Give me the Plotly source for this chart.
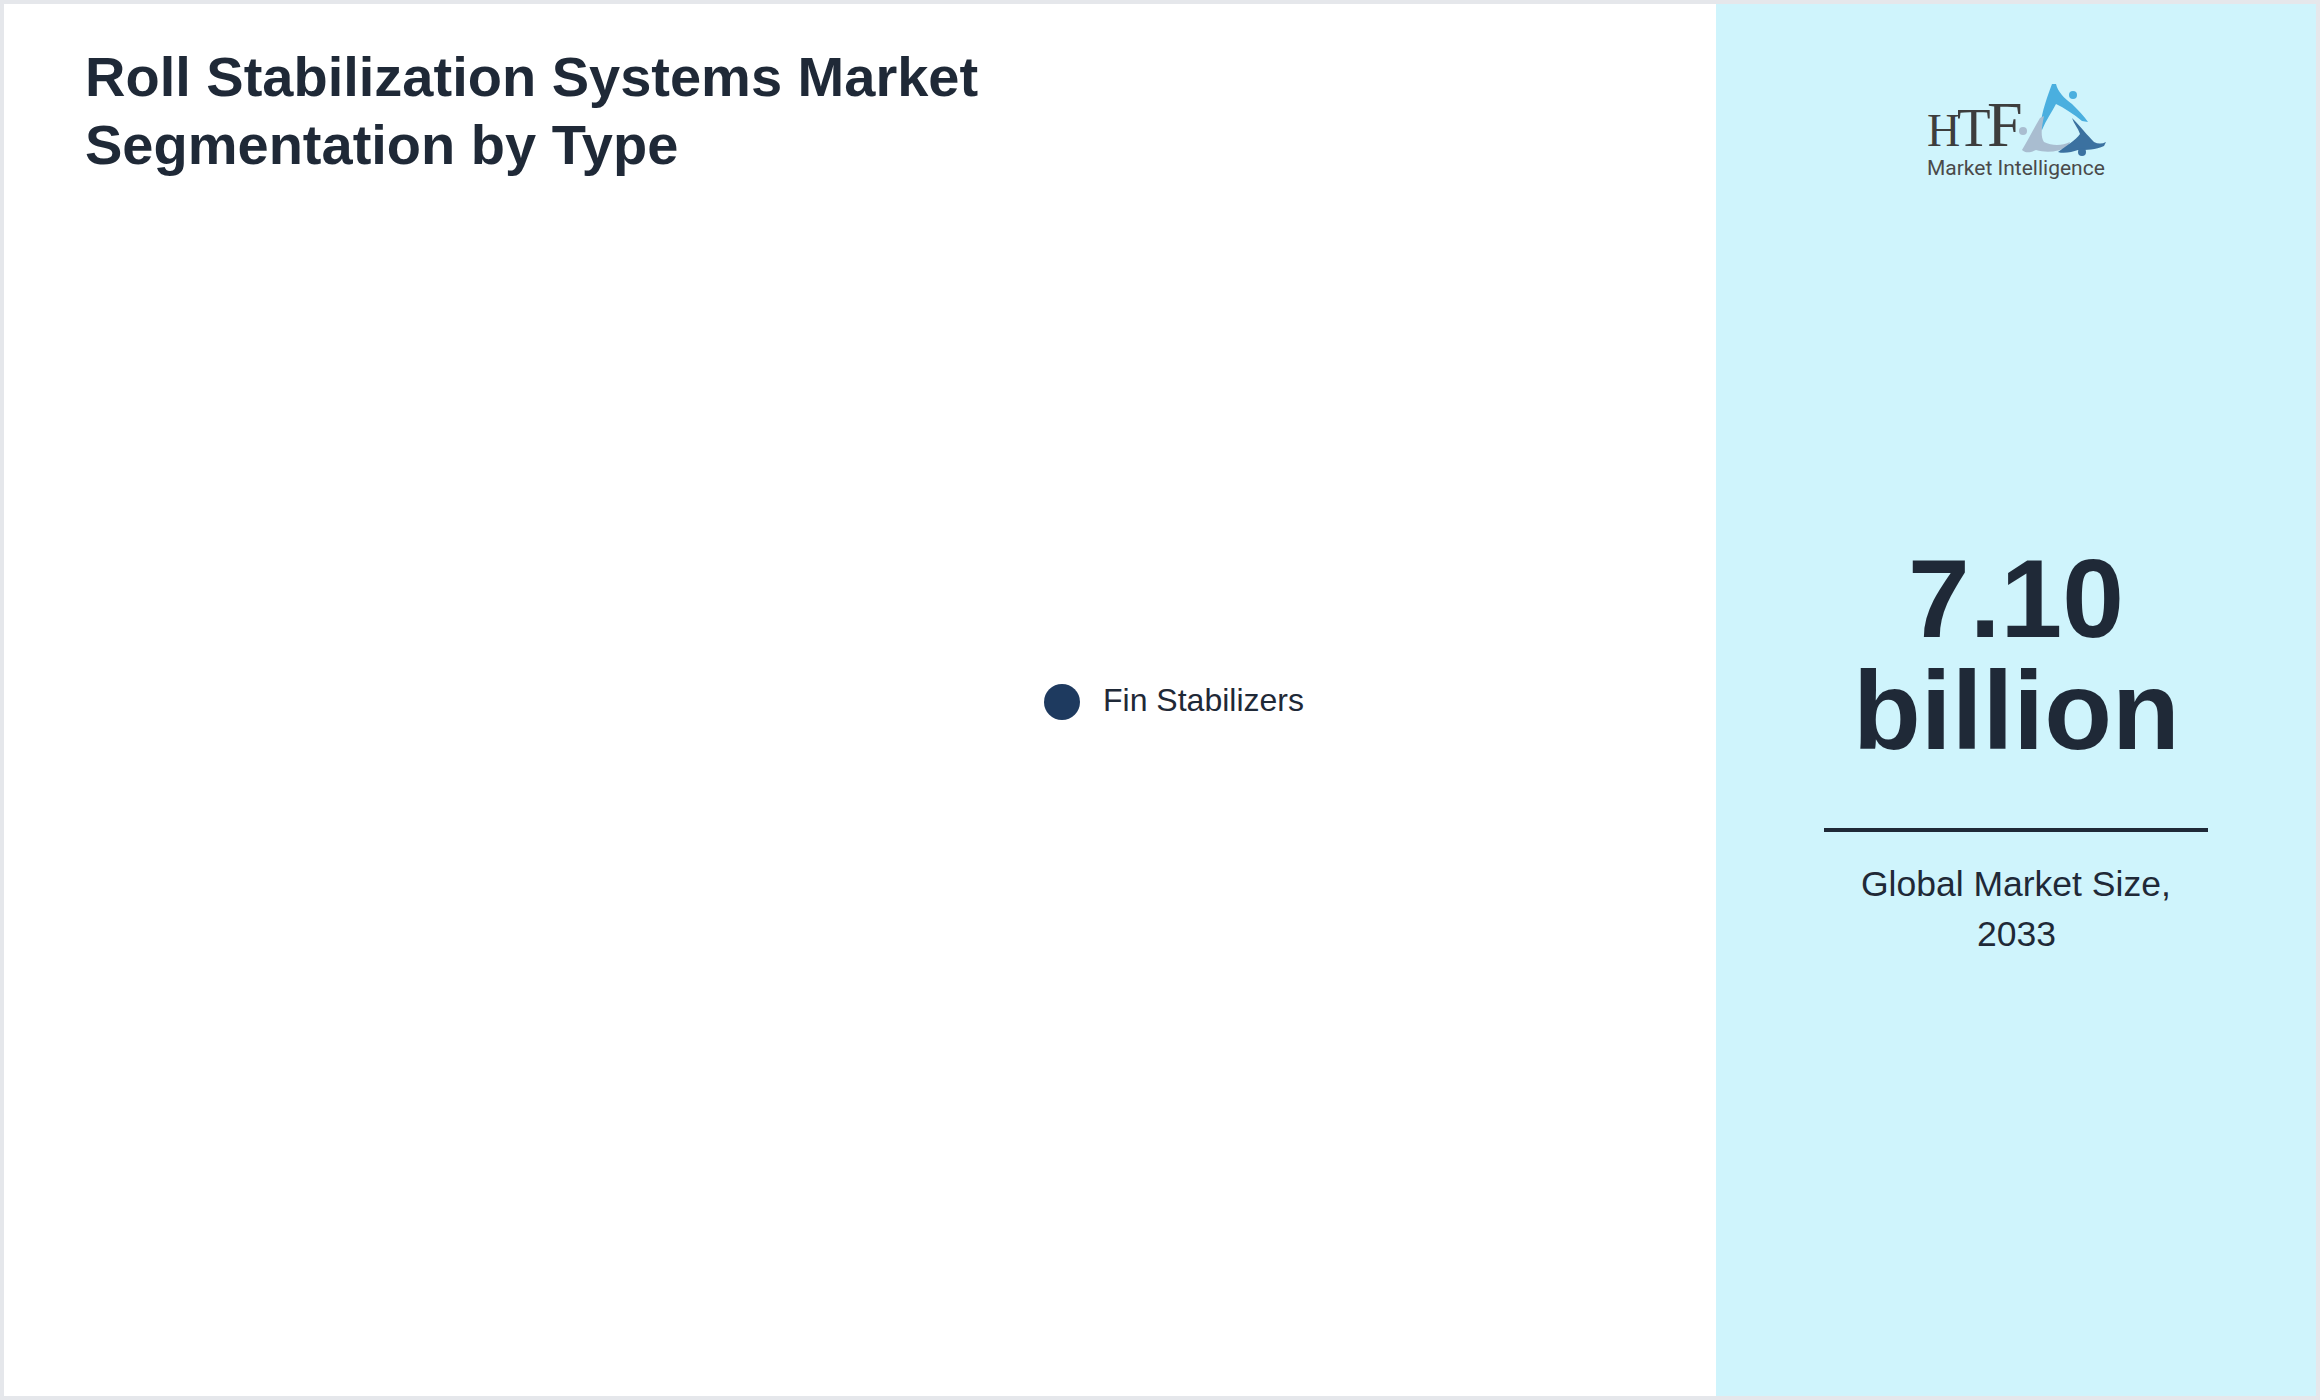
import plotly.graph_objects as go

# ---------------- data ----------------
title_lines = ["Roll Stabilization Systems Market", "Segmentation by Type"]
categories = ["Fin Stabilizers"]
category_colors = ["#1e3a5f"]
market_value = "7.10"
market_unit = "billion"
market_caption = ["Global Market Size,", "2033"]

W, H = 2320, 1400
TEXT = "#1f2937"
FONT = "Liberation Sans, Arial, sans-serif"

fig = go.Figure()

# legend-like markers (one per category)
leg_x, leg_y0, leg_gap = 1062, 702, 50
fig.add_trace(go.Scatter(
    x=[leg_x] * len(categories),
    y=[leg_y0 + i * leg_gap for i in range(len(categories))],
    mode="markers",
    marker=dict(size=36, color=category_colors, line=dict(width=0)),
    hoverinfo="skip", showlegend=False,
))

ann = []
# title
for i, t in enumerate(title_lines):
    ann.append(dict(x=82.5, y=95.5 + i * 68 - 0.3465 * 56, text=f"<b>{t}</b>",
                    xanchor="left", yanchor="middle", showarrow=False,
                    font=dict(family=FONT, size=56, color=TEXT)))
# legend labels
for i, c in enumerate(categories):
    ann.append(dict(x=1101, y=711.5 + i * leg_gap - 0.3465 * 32, text=c,
                    xanchor="left", yanchor="middle", showarrow=False,
                    font=dict(family=FONT, size=32, color=TEXT)))
# big number
cx = 2016
BIG = 111
ann.append(dict(x=cx, y=637 - 0.3465 * BIG, text=f"<b>{market_value}</b>",
                xanchor="center", yanchor="middle", showarrow=False,
                font=dict(family=FONT, size=BIG, color=TEXT)))
ann.append(dict(x=cx, y=749 - 0.3465 * BIG, text=f"<b>{market_unit}</b>",
                xanchor="center", yanchor="middle", showarrow=False,
                font=dict(family=FONT, size=BIG, color=TEXT)))
for i, t in enumerate(market_caption):
    ann.append(dict(x=cx, y=896.5 + i * 50 - 0.3465 * 35.5, text=t,
                    xanchor="center", yanchor="middle", showarrow=False,
                    font=dict(family=FONT, size=35.5, color=TEXT)))

# logo text
SERIF = "Liberation Serif, Times New Roman, serif"
for letter, lx, fs in [("H", 1925, 46), ("T", 1955, 55), ("F", 1985, 64)]:
    ann.append(dict(x=lx, y=146 - 0.3375 * fs, text=letter, xanchor="left", yanchor="middle",
                    showarrow=False, font=dict(family=SERIF, size=fs, color="#3d3d3d")))
ann.append(dict(x=2016, y=175 - 0.34 * 21, text="Market Intelligence", xanchor="center",
                yanchor="middle", showarrow=False,
                font=dict(family="Roboto, sans-serif", size=21, color="#4a4a4a")))

shapes = [
    dict(type="rect", x0=4, x1=2316, y0=4, y1=1396, fillcolor="white", line=dict(width=0), layer="below"),
    dict(type="rect", x0=1716, x1=2316, y0=4, y1=1396, fillcolor="#cff4fc", line=dict(width=0), layer="below"),
    dict(type="line", x0=1824, x1=2208, y0=830, y1=830, line=dict(color=TEXT, width=4)),
    # logo figures
    dict(type="path", path="M2040,128 C2042,110 2048,95 2052,84 L2056,84 C2058,92 2064,98 2072,104 "
                           "C2078,110 2084,116 2088,122 L2082,121 C2074,114 2064,108 2056,104 "
                           "C2052,112 2046,120 2042,130 Z",
         fillcolor="#4aafdf", line=dict(width=0)),
    dict(type="circle", x0=2069, x1=2077, y0=91, y1=99, fillcolor="#4aafdf", line=dict(width=0)),
    dict(type="path", path="M2022,150 C2028,140 2034,128 2040,118 L2044,116 C2042,126 2040,136 2044,142 "
                           "C2052,146 2062,146 2070,142 L2068,147 C2058,152 2046,153 2036,150 "
                           "C2032,152 2026,154 2022,150 Z",
         fillcolor="#a9bdd0", line=dict(width=0)),
    dict(type="circle", x0=2019, x1=2027, y0=127, y1=135, fillcolor="#a9bdd0", line=dict(width=0)),
    dict(type="path", path="M2072,118 C2080,126 2088,136 2094,142 C2098,144 2102,144 2106,142 "
                           "L2104,146 C2096,150 2086,150 2078,150 C2072,152 2064,154 2058,152 "
                           "C2066,146 2076,140 2080,134 C2078,128 2074,124 2072,118 Z",
         fillcolor="#3b71a0", line=dict(width=0)),
    dict(type="circle", x0=2078, x1=2086, y0=148, y1=156, fillcolor="#3b71a0", line=dict(width=0)),
]

fig.update_layout(
    width=W, height=H, autosize=False,
    margin=dict(l=0, r=0, t=0, b=0, pad=0),
    paper_bgcolor="#e5e7eb", plot_bgcolor="rgba(0,0,0,0)",
    xaxis=dict(range=[0, W], visible=False, fixedrange=True, domain=[0, 1]),
    yaxis=dict(range=[H, 0], visible=False, fixedrange=True, domain=[0, 1]),
    annotations=ann, shapes=shapes, showlegend=False,
    hovermode=False,
)

fig.write_html("out.html", config={"displayModeBar": False, "staticPlot": True},
               post_script="document.body.style.margin='0';document.body.style.overflow='hidden';")
